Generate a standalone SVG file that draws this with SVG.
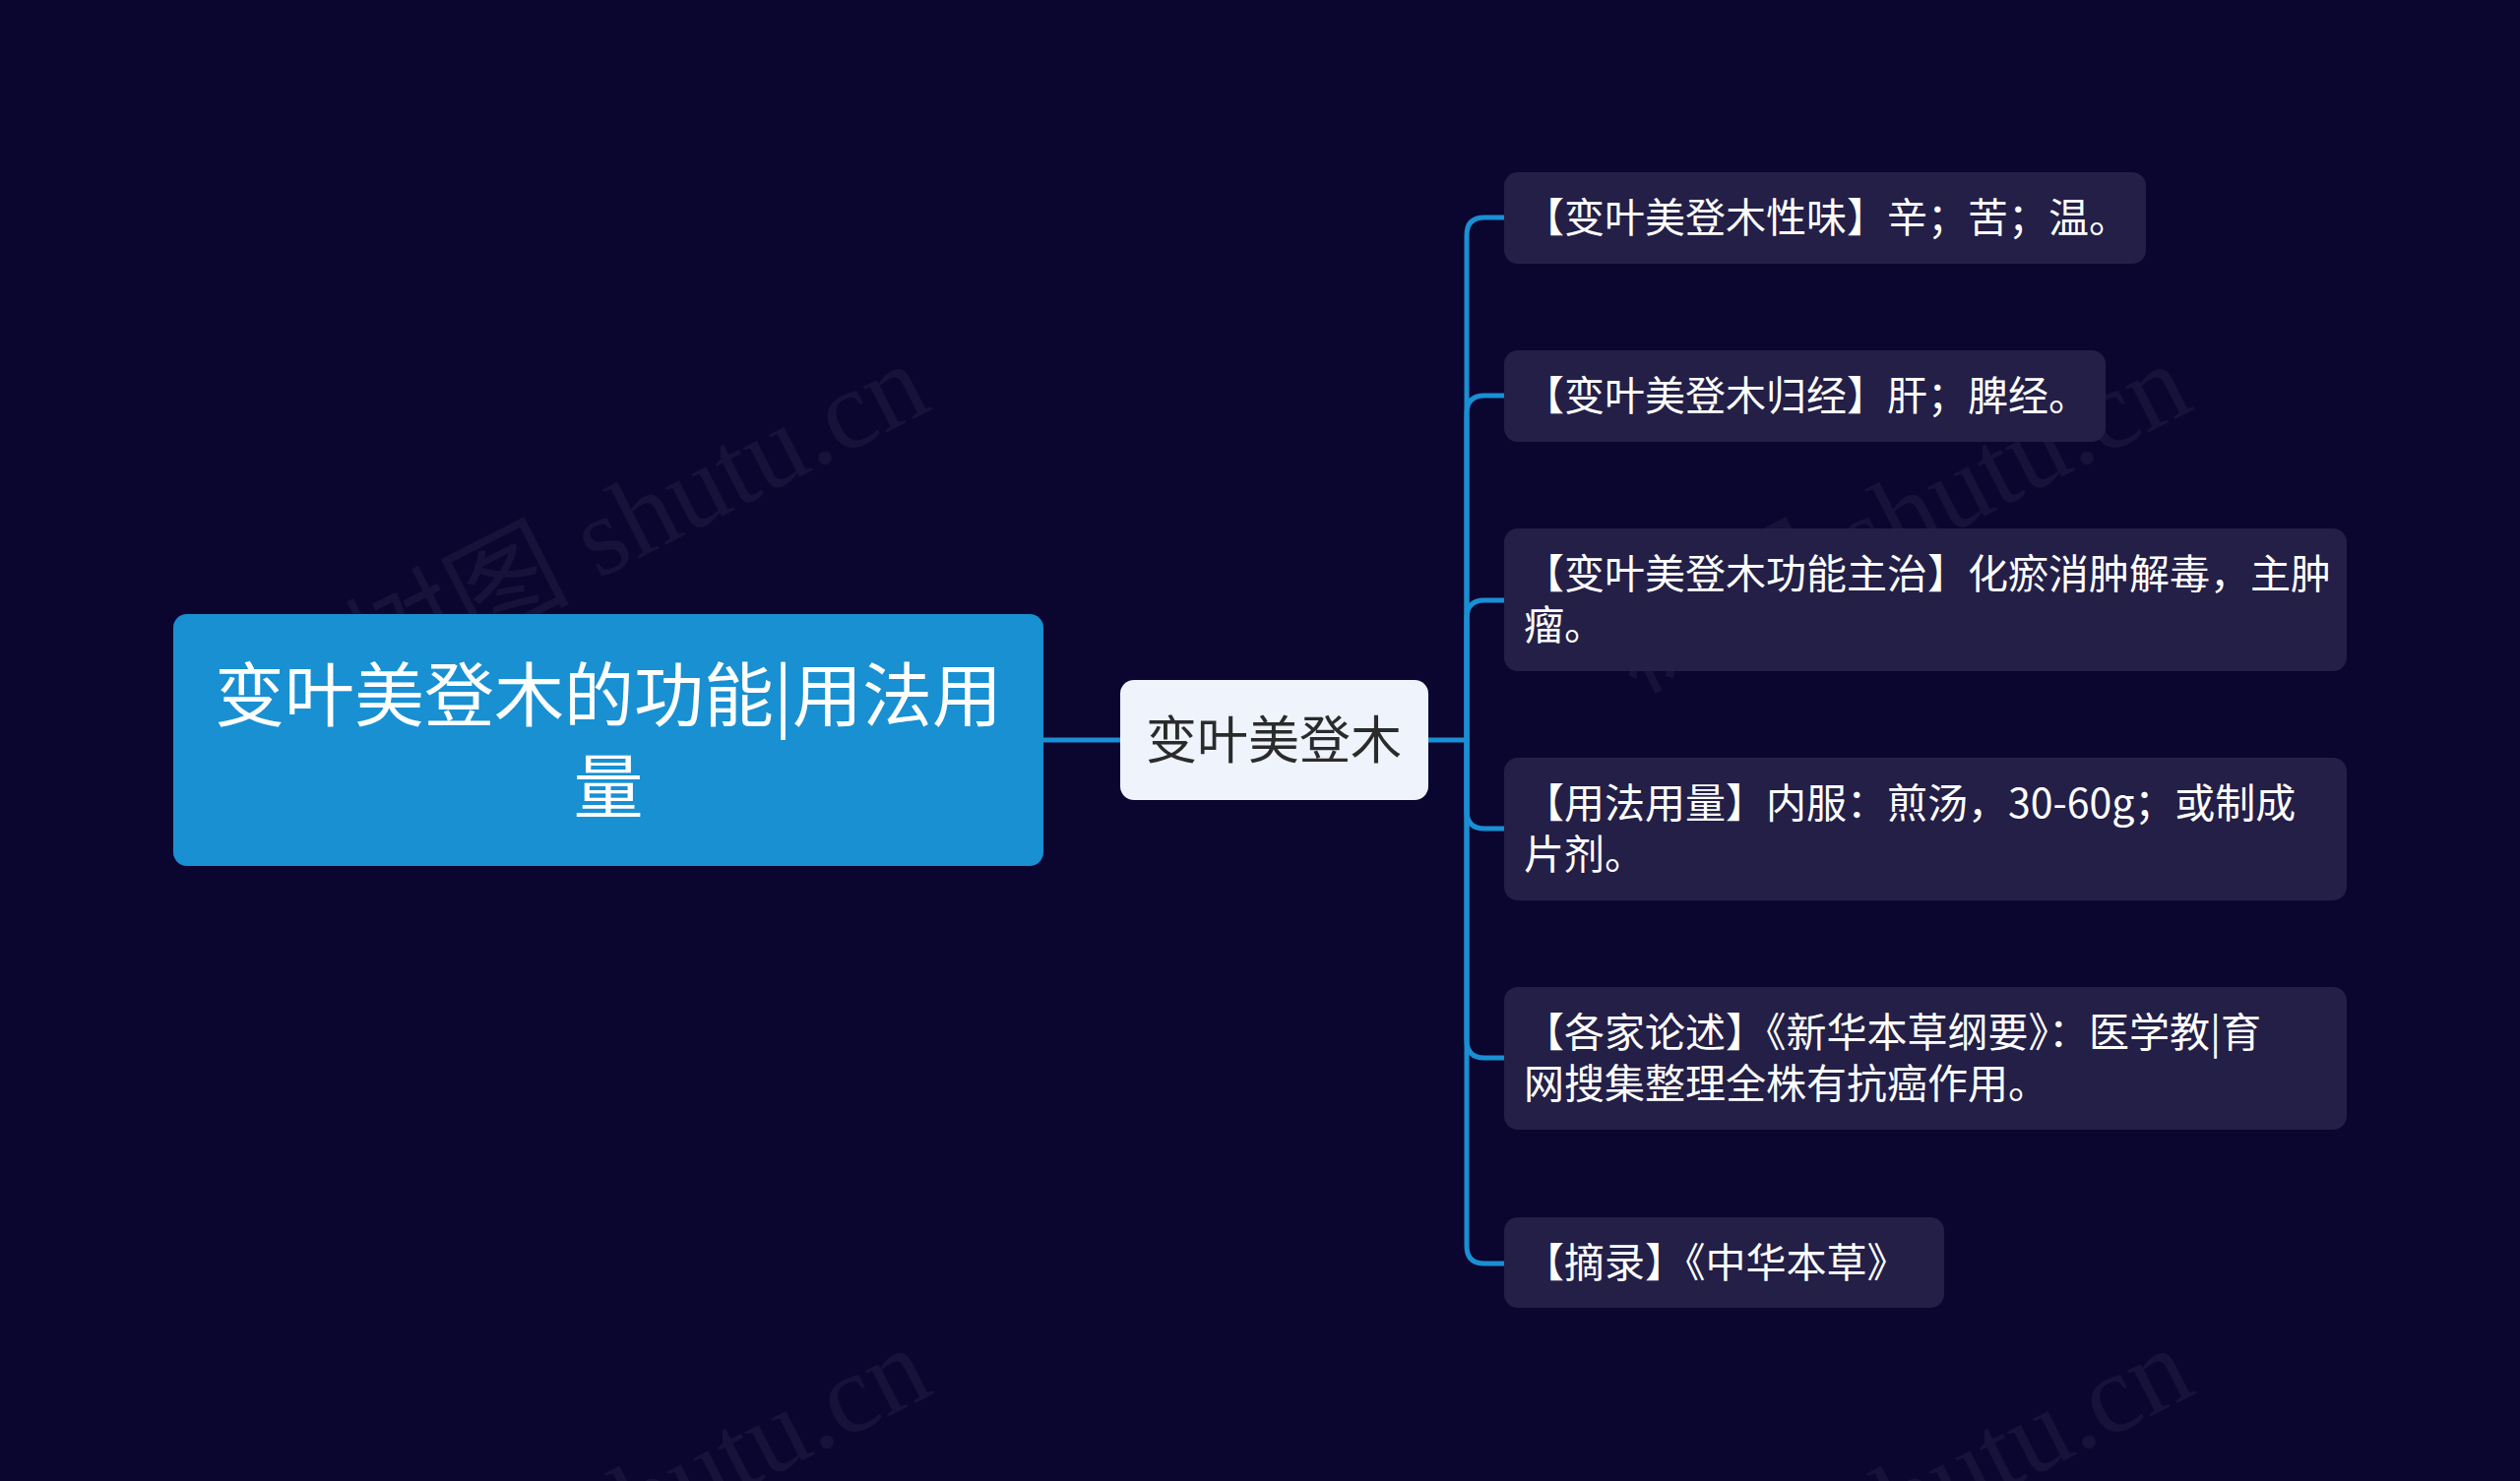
<svg xmlns="http://www.w3.org/2000/svg" width="2560" height="1505" viewBox="0 0 2560 1505">
<style>
.bg{fill:#0b0630}
.wm{font-family:"Liberation Serif","Noto Sans CJK SC",serif;font-size:114px;fill:#ffffff;fill-opacity:0.05}
.conn{fill:none;stroke:#1a8fd3;stroke-width:5;stroke-linecap:round}
.root rect{fill:#1890d2}
.root text{font-family:"Noto Sans CJK SC","Noto Sans",sans-serif;font-size:71px;fill:#ffffff;text-anchor:middle}
.sub rect{fill:#eef3fc}
.sub text{font-family:"Noto Sans CJK SC","Noto Sans",sans-serif;font-size:52px;fill:#2b2b2b;text-anchor:middle}
.leaf rect{fill:#231f47}
.leaf text{font-family:"Noto Sans CJK SC","Noto Sans",sans-serif;font-size:41px;fill:#ffffff}
</style>
<rect class="bg" x="0" y="0" width="2560" height="1505"/>
<g id="watermarks">
<text class="wm" transform="translate(664 560) rotate(-27)" text-anchor="middle">树图 shutu.cn</text>
<text class="wm" transform="translate(1946 560) rotate(-27)" text-anchor="middle">树图 shutu.cn</text>
<text class="wm" transform="translate(666 1560) rotate(-27)" text-anchor="middle">树图 shutu.cn</text>
<text class="wm" transform="translate(1948 1560) rotate(-27)" text-anchor="middle">树图 shutu.cn</text>
</g>
<g id="connectors">
<path class="conn" d="M1060 752 H1138"/>
<path class="conn" d="M1451 752 H1490"/>
<path class="conn" d="M1490 752 V239 Q1490 221 1508 221 H1528"/>
<path class="conn" d="M1490 752 V420 Q1490 402 1508 402 H1528"/>
<path class="conn" d="M1490 752 V628 Q1490 610 1508 610 H1528"/>
<path class="conn" d="M1490 752 V824 Q1490 842 1508 842 H1528"/>
<path class="conn" d="M1490 752 V1057 Q1490 1075 1508 1075 H1528"/>
<path class="conn" d="M1490 752 V1266 Q1490 1284 1508 1284 H1528"/>
</g>
<g id="root" class="root">
<rect x="176" y="624" width="884" height="256" rx="14"/>
<text x="618" y="732">变叶美登木的功能|用法用</text>
<text x="618" y="825">量</text>
</g>
<g id="sub" class="sub">
<rect x="1138" y="691" width="313" height="122" rx="14"/>
<text x="1294" y="771">变叶美登木</text>
</g>
<g id="leaf1" class="leaf">
<rect x="1528" y="175" width="652" height="93" rx="14"/>
<text x="1548" y="236">【变叶美登木性味】辛；苦；温。</text>
</g>
<g id="leaf2" class="leaf">
<rect x="1528" y="356" width="611" height="93" rx="14"/>
<text x="1548" y="417">【变叶美登木归经】肝；脾经。</text>
</g>
<g id="leaf3" class="leaf">
<rect x="1528" y="537" width="856" height="145" rx="14"/>
<text x="1548" y="598">【变叶美登木功能主治】化瘀消肿解毒，主肿</text>
<text x="1548" y="650">瘤。</text>
</g>
<g id="leaf4" class="leaf">
<rect x="1528" y="770" width="856" height="145" rx="14"/>
<text x="1548" y="831">【用法用量】内服：煎汤，30-60g；或制成</text>
<text x="1548" y="883">片剂。</text>
</g>
<g id="leaf5" class="leaf">
<rect x="1528" y="1003" width="856" height="145" rx="14"/>
<text x="1548" y="1064">【各家论述】《新华本草纲要》：医学教|育</text>
<text x="1548" y="1116">网搜集整理全株有抗癌作用。</text>
</g>
<g id="leaf6" class="leaf">
<rect x="1528" y="1237" width="447" height="92" rx="14"/>
<text x="1548" y="1298">【摘录】《中华本草》</text>
</g>
</svg>
